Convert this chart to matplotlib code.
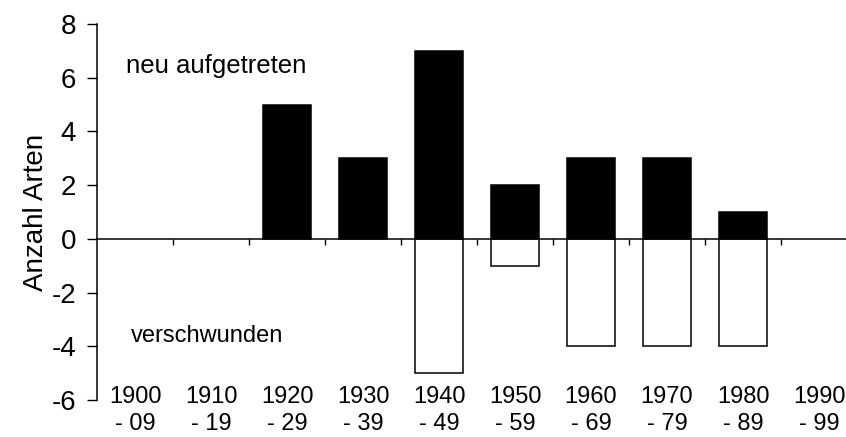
import matplotlib.pyplot as plt

# Daten: Anzahl Arten pro Jahrzehnt
jahrzehnte = ["1900", "1910", "1920", "1930", "1940", "1950", "1960", "1970", "1980", "1990"]
bis = ["- 09", "- 19", "- 29", "- 39", "- 49", "- 59", "- 69", "- 79", "- 89", "- 99"]
neu = [0, 0, 5, 3, 7, 2, 3, 3, 1, 0]
verschwunden = [0, 0, 0, 0, -5, -1, -4, -4, -4, 0]


def main():
    plt.rcParams["font.family"] = ["Liberation Sans", "DejaVu Sans"]
    plt.rcParams["axes.unicode_minus"] = False
    fig = plt.figure(figsize=(8.46, 4.37), dpi=100)
    ax = fig.add_axes([97 / 846, 37 / 437, 760 / 846, 376 / 437])

    x = list(range(len(jahrzehnte)))
    # nur Jahrzehnte mit Werten zeichnen (keine Nullbalken)
    xn = [i for i in x if neu[i] != 0]
    xv = [i for i in x if verschwunden[i] != 0]
    ax.bar(xn, [neu[i] for i in xn], width=0.64, color="black", edgecolor="black", linewidth=1.1)
    ax.bar(xv, [verschwunden[i] for i in xv], width=0.64, color="white", edgecolor="black", linewidth=1.1)

    ax.set_xlim(-0.5, 9.5)
    ax.set_ylim(-6, 8)
    ax.set_yticks(range(-6, 9, 2))
    ax.tick_params(axis="y", labelsize=20, length=7, width=1, direction="out", pad=8)

    # Nulllinie als untere Achse mit Teilstrichen zwischen den Jahrzehnten
    ax.spines["top"].set_visible(False)
    ax.spines["right"].set_visible(False)
    ax.spines["bottom"].set_position(("data", 0))
    ax.spines["bottom"].set_linewidth(1.1)
    ax.spines["left"].set_linewidth(1.1)
    ax.set_xticks([i + 0.5 for i in range(len(jahrzehnte))])
    ax.set_xticklabels([])
    ax.tick_params(axis="x", length=4.5, width=1, direction="out")

    for i in x:
        ax.text(i, -6.12, jahrzehnte[i], ha="center", va="baseline", fontsize=17, clip_on=False)
        ax.text(i, -7.12, bis[i], ha="center", va="baseline", fontsize=17, clip_on=False)

    ax.set_ylabel("Anzahl Arten", fontsize=20, labelpad=2)
    ax.text(-0.12, 6.17, "neu aufgetreten", fontsize=18.5, ha="left", va="baseline")
    ax.text(-0.05, -3.84, "verschwunden", fontsize=17, ha="left", va="baseline")

    fig.savefig("out.png", dpi=100)


if __name__ == "__main__":
    main()
